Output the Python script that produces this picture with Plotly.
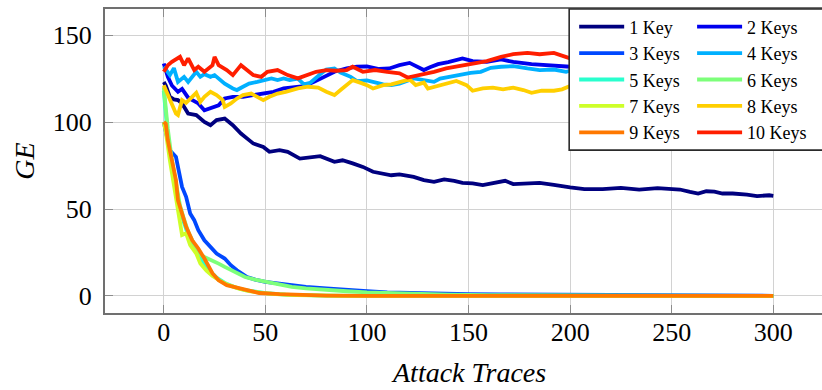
import plotly.graph_objects as go

# ---------------- data ----------------
names = ["1 Key", "2 Keys", "3 Keys", "4 Keys", "5 Keys",
         "6 Keys", "7 Keys", "8 Keys", "9 Keys", "10 Keys"]
colors = ["#00007f", "#0000ee", "#0048ff", "#00b0ff", "#29ffce",
          "#7dff7a", "#ceff29", "#ffcf00", "#ff7800", "#ff1e00"]

x1 = [0, 1, 3, 5, 7, 9, 12, 16, 20, 23, 26, 30, 34, 38, 42, 44, 49, 52, 57, 61, 67, 74, 77, 84, 88, 93, 98, 103, 107, 112, 116, 123, 128, 133, 138, 143, 147, 152, 157, 162, 168, 172, 179, 185, 192, 198, 200, 207, 216, 225, 234, 243, 249, 254, 259, 263, 267, 271, 275, 280, 287, 292, 298, 300]
y1 = [123, 121, 114.5, 113, 112.6, 110.7, 104.9, 104, 100.1, 98.2, 101.1, 102, 98.2, 93.4, 89.6, 87.7, 85.7, 82.9, 83.8, 82.9, 79, 80, 80.4, 77.1, 78, 76.2, 74.2, 71.4, 70.4, 69.4, 69.9, 68.5, 66.6, 65.6, 67, 66.2, 65, 64.7, 63.7, 65, 66.2, 64.3, 64.7, 65, 63.9, 62.4, 62.4, 61.4, 61.4, 62.1, 61.2, 62, 61.4, 61.2, 59.8, 58.9, 60.2, 60, 58.9, 58.9, 58.3, 57.4, 57.9, 57.6]

x2 = [0, 2, 4, 7, 9, 12, 15, 17, 20, 24, 27, 30, 34, 39, 44, 49, 54, 59, 64, 69, 74, 79, 84, 90, 95, 100, 106, 111, 116, 121, 128, 131, 135, 140, 147, 152, 159, 166, 172, 181, 189, 195, 200]
y2 = [133.7, 126, 121, 117.4, 119, 114, 112, 110.7, 106.8, 108.7, 109.6, 113.6, 114.5, 114.5, 115.5, 116.4, 117.4, 119.3, 119.8, 120.7, 123.1, 126, 128.9, 130.8, 131.8, 132, 130.5, 130.8, 132.7, 134, 129.9, 131.5, 133.3, 134.5, 136.6, 135, 134.6, 136, 134.6, 133.3, 132.7, 132.1, 131.8]

x3 = [0, 1, 3, 6, 7, 9, 11, 13, 15, 17, 20, 23, 26, 30, 33, 36, 41, 45, 50, 57, 63, 70, 80, 90, 100, 110, 120, 135, 150, 165, 180, 200, 220, 240, 260, 280, 300]
y3 = [100, 95, 83.8, 80, 74.2, 62.7, 57, 47.4, 43.6, 37.8, 32, 28.2, 24.4, 21.5, 17.7, 14.8, 10.9, 9.4, 8.1, 7.1, 6.2, 5.2, 4.3, 3.3, 2.7, 2.1, 1.7, 1.3, 1.0, 0.9, 0.8, 0.6, 0.4, 0.3, 0.2, 0.1, 0.1]

x4 = [0, 3, 5, 7, 10, 12, 16, 18, 20, 23, 25, 28, 30, 34, 36, 39, 42, 46, 49, 53, 56, 59, 62, 66, 69, 72, 77, 80, 84, 87, 92, 95, 100, 103, 108, 112, 116, 123, 128, 133, 136, 141, 146, 151, 156, 161, 166, 172, 179, 185, 192, 198, 200]
y4 = [131.8, 127, 131, 123.1, 126, 123.1, 128.9, 126, 127.5, 126, 127, 124.1, 122.1, 119.3, 118.4, 120.3, 122.1, 123.1, 124.1, 125.1, 124.1, 125.1, 124.1, 125, 121.7, 122.5, 127.5, 130.2, 130.8, 128.5, 126, 123.5, 124, 123.1, 121.7, 121.2, 122.1, 125.1, 124, 123.1, 125, 126, 127.5, 128.3, 128.9, 131.2, 131.8, 132.1, 130.8, 129.9, 130.2, 128.9, 129.5]

x5 = [0, 1, 2, 4, 6, 8, 10, 12, 14, 17, 20, 23, 26, 30, 35, 40, 46, 52, 60, 70, 80, 100, 150, 200, 250, 300]
y5 = [118, 103, 92, 76, 62, 50, 42, 35, 30, 24, 18.5, 14, 10.5, 7.5, 5, 3.3, 2.2, 1.4, 0.8, 0.4, 0.2, 0.1, 0, 0, 0, 0]

x6 = [0, 1, 2, 4, 6, 8, 10, 12, 14, 17, 20, 24, 27, 30, 35, 40, 45, 50, 57, 63, 70, 80, 90, 100, 110, 120, 140, 160, 200, 250, 300]
y6 = [120, 108, 96, 78, 64, 52, 44, 37, 32, 24.4, 22.4, 20.5, 18.6, 16.7, 13.8, 10.9, 9.4, 8.1, 6.2, 5.2, 4.3, 3.3, 2.7, 2.1, 1.7, 1.3, 0.8, 0.5, 0.3, 0.1, 0]

x7 = [0, 1, 3, 5, 7, 9, 11, 13, 16, 18, 21, 24, 28, 32, 37, 42, 48, 55, 65, 75, 90, 120, 200, 300]
y7 = [100, 94.4, 78, 63, 51, 35, 36, 29.2, 24.4, 18.6, 14.5, 11.5, 8.5, 6.2, 4.2, 2.8, 1.8, 1.0, 0.5, 0.2, 0.1, 0, 0, 0]

x8 = [0, 2, 4, 6, 7, 8, 9, 11, 14, 16, 18, 20, 23, 26, 29, 30, 33, 36, 39, 43, 46, 49, 52, 56, 60, 66, 71, 76, 80, 84, 87, 90, 93, 97, 100, 103, 108, 112, 116, 121, 124, 128, 130, 135, 141, 144, 149, 152, 157, 162, 167, 172, 177, 181, 186, 192, 196, 200]
y8 = [121.2, 115.5, 110.7, 104.9, 104, 108.7, 112.6, 111, 114.5, 116.8, 111.6, 114.5, 117.4, 115.5, 112.6, 108.7, 110.7, 113.5, 115.5, 116.4, 114.5, 112.6, 114.5, 116.4, 117.4, 119.3, 120.3, 119.8, 117.4, 115.5, 118.4, 121.2, 124.1, 122.5, 121.2, 119.3, 121.2, 121.7, 123.1, 124.5, 121.2, 122.7, 119.3, 120.7, 122.7, 123.6, 121.2, 118, 119.3, 119.8, 118.8, 119.8, 118.4, 116.8, 118, 118, 118.8, 120.7]

x9 = [0, 1, 2, 4, 6, 7, 9, 11, 14, 17, 20, 24, 27, 31, 36, 41, 47, 57, 70, 80, 100, 150, 200, 250, 300]
y9 = [100, 99, 89.6, 78, 66.6, 55, 47.4, 39.7, 32, 27.3, 21.5, 12.9, 9, 6.2, 4.8, 3.3, 1.7, 1, 0.4, 0.2, 0, 0, 0, 0, 0]

x10 = [0, 2, 4, 8, 10, 12, 15, 17, 20, 24, 25, 27, 31, 34, 38, 41, 44, 48, 51, 56, 61, 66, 70, 75, 80, 85, 90, 93, 98, 104, 110, 116, 120, 126, 133, 139, 149, 159, 166, 172, 179, 185, 192, 197, 200]
y10 = [128.9, 132.7, 134.6, 137.5, 132.7, 136.6, 129.9, 131.8, 128.9, 132.7, 137.5, 132.7, 129.9, 127, 132.7, 129.9, 127, 126, 128.9, 129.9, 127, 125.1, 127, 128.9, 129.9, 129.5, 129.9, 131.8, 128.9, 129.9, 128.9, 128, 125.6, 127, 128.9, 130.8, 132.7, 135, 137.5, 139, 139.8, 139, 139.8, 137.9, 136.6]

xs = [x1, x2, x3, x4, x5, x6, x7, x8, x9, x10]
ys = [y1, y2, y3, y4, y5, y6, y7, y8, y9, y10]

x_ticks = [0, 50, 100, 150, 200, 250, 300]
y_ticks = [0, 50, 100, 150]
x_title = "Attack Traces"
y_title = "GE"

# ---------------- figure ----------------
SERIF = "Liberation Serif"
W, H = 822, 390
ML, MR, MT, MB = 104.5, 0, 9, 77.3
PW = W - ML - MR
PH = H - MT - MB

def px_x(p):
    return (p - ML) / PW

def px_y(p):
    return (H - MB - p) / PH

fig = go.Figure()
for i in range(10):
    fig.add_trace(go.Scatter(
        x=xs[i], y=ys[i], mode="lines", name=names[i],
        line=dict(color=colors[i], width=3.8),
        legend="legend" if i % 2 == 0 else "legend2",
    ))

axis_common = dict(
    showgrid=True, gridcolor="#d2d2d2", gridwidth=1,
    showline=True, linecolor="#707070", linewidth=2,
    ticks="inside", ticklen=8, tickcolor="#8c8c8c", tickwidth=1,
    zeroline=False,
    tickfont=dict(family=SERIF, size=26, color="black"),
)

fig.update_xaxes(range=[(ML - 163.3) / 2.0333, (W - 163.3) / 2.0333],
                 tickvals=x_ticks, mirror="ticks", ticklabelstandoff=-5,
                 **axis_common)
fig.update_yaxes(range=[-9.8, 165], tickvals=y_ticks, mirror=False,
                 ticklabelstandoff=6, **axis_common)

legend_common = dict(
    orientation="v", bgcolor="rgba(0,0,0,0)", borderwidth=0,
    font=dict(family=SERIF, size=18, color="black"),
    xanchor="left", yanchor="top", itemwidth=45,
    tracegroupgap=0,
)

fig.update_layout(
    width=W, height=H,
    margin=dict(l=ML, r=MR, t=MT, b=MB, pad=0),
    plot_bgcolor="white", paper_bgcolor="white",
    showlegend=True,
    legend=dict(x=px_x(574), y=px_y(8.5), **legend_common),
    legend2=dict(x=px_x(692), y=px_y(8.5), **legend_common),
    shapes=[dict(type="rect", xref="paper", yref="paper",
                 x0=px_x(569), x1=1.02, y0=px_y(150), y1=1.0,
                 line=dict(color="#2a2a2a", width=1.6),
                 fillcolor="white", layer="above")],
    annotations=[
        dict(text=x_title, xref="paper", yref="paper",
             x=px_x(468), y=px_y(372), xanchor="center", yanchor="middle",
             showarrow=False,
             font=dict(family=SERIF, size=28, color="black", style="italic")),
        dict(text=y_title, xref="paper", yref="paper",
             x=px_x(24), y=px_y(161), xanchor="center", yanchor="middle",
             textangle=-90, showarrow=False,
             font=dict(family=SERIF, size=28, color="black", style="italic")),
    ],
)

fig.write_html("out.html", config={"displayModeBar": False},
               post_script="document.body.style.margin='0';")
